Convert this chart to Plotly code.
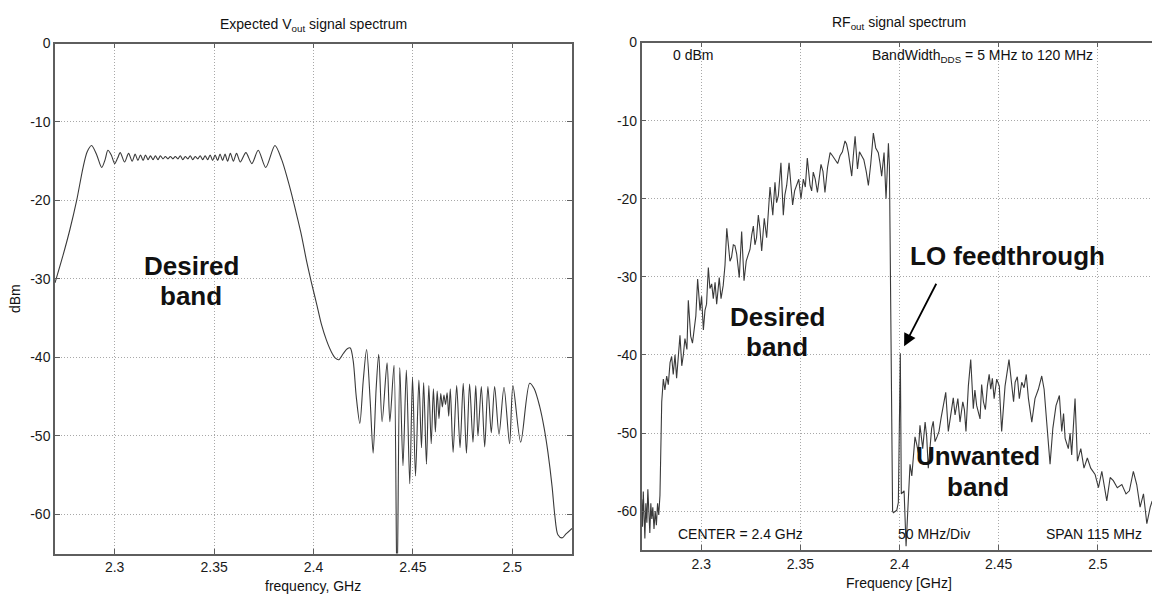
import plotly.graph_objects as go

W, H = 1152, 597

# ---------------- data ----------------
left_freq = [
    2.2700, 2.2738, 2.2775, 2.2809, 2.2841, 2.2862, 2.2884,
    2.2910, 2.2935, 2.2952, 2.2966, 2.2983, 2.3000, 2.3015, 2.3028,
    2.3050, 2.3070, 2.3088, 2.3103, 2.3117, 2.3130, 2.3143, 2.3155, 2.3168, 2.3180,
    2.3193, 2.3205, 2.3218, 2.3230, 2.3243, 2.3255, 2.3268, 2.3280, 2.3293, 2.3305,
    2.3318, 2.3330, 2.3343, 2.3355, 2.3368, 2.3380, 2.3393, 2.3405, 2.3418, 2.3430,
    2.3443, 2.3455, 2.3468, 2.3480, 2.3493, 2.3505, 2.3518, 2.3530, 2.3543, 2.3555,
    2.3568, 2.3582, 2.3597, 2.3613, 2.3632, 2.3660, 2.3690, 2.3722, 2.3760, 2.3806,
    2.3840, 2.3871, 2.3893, 2.3915, 2.3940, 2.3965, 2.3990, 2.4015, 2.4040, 2.4065,
    2.4090, 2.4110, 2.4127, 2.4150, 2.4170, 2.4185, 2.4200, 2.4215, 2.4233, 2.4250,
    2.4267, 2.4285, 2.4300, 2.4315, 2.4328, 2.4345, 2.4370, 2.4384, 2.4405, 2.4420,
    2.4434, 2.4450, 2.4467, 2.4484, 2.4498, 2.4513, 2.4530, 2.4543, 2.4554, 2.4568,
    2.4580, 2.4592, 2.4603, 2.4613, 2.4622, 2.4631, 2.4640, 2.4648, 2.4656, 2.4664,
    2.4672, 2.4680, 2.4688, 2.4702, 2.4720, 2.4737, 2.4753, 2.4769, 2.4785, 2.4802,
    2.4816, 2.4827, 2.4844, 2.4861, 2.4877, 2.4894, 2.4911, 2.4933, 2.4958, 2.4986,
    2.5003, 2.5042, 2.5087, 2.5110, 2.5137, 2.5160, 2.5179, 2.5200, 2.5213, 2.5229,
    2.5250, 2.5270, 2.5300,
]
left_dbm = [
    -30.5, -27.2, -23.7, -20.0, -15.8, -13.8, -13.0,
    -14.2, -15.8, -14.8, -13.6, -14.2, -15.3, -14.6, -13.9,
    -15.1, -14.0, -15.0, -14.1, -14.9, -14.2, -14.9, -14.2, -14.8, -14.3,
    -14.8, -14.3, -14.8, -14.3, -14.7, -14.4, -14.7, -14.4, -14.7, -14.4,
    -14.7, -14.3, -14.8, -14.4, -14.7, -14.3, -14.8, -14.4, -14.7, -14.3,
    -14.8, -14.3, -14.8, -14.2, -14.9, -14.2, -14.9, -14.1, -14.9, -14.1,
    -15.0, -14.0, -15.0, -14.0, -15.1, -13.9, -15.3, -13.6, -15.8, -13.0,
    -14.8, -17.4, -19.5, -21.8, -24.5, -27.7, -30.5, -33.1, -35.8, -37.8,
    -39.3, -40.1, -40.3, -39.5, -38.9, -38.8, -40.5, -45.0, -48.4, -43.0,
    -39.0, -45.5, -52.2, -44.0, -39.6, -48.2, -40.7, -48.2, -41.0, -70.0,
    -41.3, -53.8, -41.6, -56.1, -42.5, -55.1, -42.9, -51.5, -43.2, -53.6,
    -43.6, -51.0, -44.0, -49.5, -44.3, -47.8, -44.6, -46.3, -44.8, -46.0,
    -44.5, -47.5, -44.0, -52.1, -43.6, -51.5, -43.3, -52.2, -43.4, -50.8,
    -43.6, -50.0, -43.7, -51.4, -43.7, -49.6, -43.7, -49.8, -43.8, -51.0,
    -43.6, -50.8, -43.3, -44.0, -46.2, -49.0, -52.1, -56.5, -60.0, -62.6,
    -63.0, -62.5, -61.8,
]

right_freq = [
    # noise floor before the band
    2.2700, 2.2704, 2.2708, 2.2712, 2.2716, 2.2721, 2.2726, 2.2731, 2.2736, 2.2741,
    2.2746, 2.2751, 2.2756, 2.2762, 2.2768, 2.2774, 2.2780, 2.2786, 2.2792, 2.2797,
    # desired band
    2.2801, 2.2809, 2.2817, 2.2826, 2.2834, 2.2843, 2.2851, 2.2859, 2.2868, 2.2876,
    2.2885, 2.2893, 2.2902, 2.2910, 2.2918, 2.2928, 2.2935, 2.2947, 2.2956, 2.2965,
    2.2973, 2.2982, 2.2994, 2.3002, 2.3011, 2.3019, 2.3027, 2.3036, 2.3044, 2.3053,
    2.3061, 2.3070, 2.3078, 2.3091, 2.3100, 2.3111, 2.3120, 2.3129, 2.3137, 2.3145,
    2.3153, 2.3162, 2.3170, 2.3179, 2.3192, 2.3204, 2.3216, 2.3227, 2.3238, 2.3246,
    2.3255, 2.3263, 2.3271, 2.3279, 2.3288, 2.3296, 2.3305, 2.3318, 2.3330, 2.3338,
    2.3347, 2.3361, 2.3372, 2.3380, 2.3389, 2.3402, 2.3414, 2.3422, 2.3431, 2.3443,
    2.3452, 2.3461, 2.3471, 2.3482, 2.3492, 2.3503, 2.3515, 2.3525, 2.3535, 2.3549,
    2.3557, 2.3565, 2.3575, 2.3586, 2.3595, 2.3604, 2.3614, 2.3624, 2.3637, 2.3650,
    2.3662, 2.3675, 2.3688, 2.3700, 2.3712, 2.3725, 2.3733, 2.3742, 2.3750, 2.3759,
    2.3767, 2.3776, 2.3788, 2.3798, 2.3809, 2.3820, 2.3832, 2.3843, 2.3855, 2.3868,
    2.3880, 2.3893, 2.3902, 2.3910, 2.3922, 2.3932, 2.3944, 2.3949,
    # band edge and LO feedthrough
    2.3952, 2.3956, 2.3960, 2.3965, 2.3969, 2.3986, 2.3994, 2.4000, 2.4004, 2.4009,
    2.4023, 2.4033, 2.4044,
    # unwanted band
    2.4053, 2.4062, 2.4070, 2.4078, 2.4087, 2.4095, 2.4103, 2.4117, 2.4129, 2.4137,
    2.4145, 2.4153, 2.4162, 2.4170, 2.4179, 2.4189, 2.4199, 2.4210, 2.4221, 2.4233,
    2.4246, 2.4255, 2.4263, 2.4271, 2.4280, 2.4294, 2.4305, 2.4319, 2.4327, 2.4335,
    2.4347, 2.4359, 2.4372, 2.4380, 2.4389, 2.4406, 2.4414, 2.4423, 2.4433, 2.4443,
    2.4452, 2.4460, 2.4468, 2.4477, 2.4490, 2.4503, 2.4515, 2.4524, 2.4532, 2.4552,
    2.4566, 2.4575, 2.4583, 2.4594, 2.4604, 2.4616, 2.4628, 2.4639, 2.4650, 2.4667,
    2.4683, 2.4700, 2.4717, 2.4729, 2.4742, 2.4759, 2.4773, 2.4789, 2.4806, 2.4818,
    2.4827, 2.4835, 2.4851, 2.4860, 2.4868, 2.4885, 2.4897, 2.4914, 2.4930, 2.4947,
    2.4964, 2.4986, 2.5003, 2.5020, 2.5045, 2.5062, 2.5078, 2.5098, 2.5121, 2.5142,
    2.5159, 2.5179, 2.5196, 2.5213, 2.5230, 2.5247, 2.5264, 2.5274,
]
right_dbm = [
    -58.5, -62.0, -57.5, -60.5, -63.5, -59.0, -61.5, -57.2, -60.0, -62.8,
    -59.0, -61.0, -59.5, -62.3, -60.0, -61.8, -59.0, -60.5, -58.0, -50.0,
    -46.0, -43.1, -44.5, -42.7, -43.8, -41.0, -40.2, -42.5, -40.0, -43.0,
    -39.5, -37.5, -41.4, -40.0, -37.9, -39.3, -33.0, -37.6, -38.5, -36.8,
    -35.0, -30.3, -34.3, -32.5, -36.8, -34.3, -33.5, -28.8, -31.5, -30.9,
    -32.8, -30.7, -33.5, -30.1, -32.8, -31.1, -28.5, -23.8, -26.2, -28.0,
    -27.5, -25.9, -26.0, -27.1, -30.1, -24.2, -30.5, -28.0, -27.1, -26.5,
    -24.6, -23.5, -25.9, -25.0, -22.1, -23.8, -26.7, -22.5, -25.0, -21.5,
    -18.5, -22.1, -17.9, -20.5, -19.6, -15.4, -22.1, -19.5, -18.3, -15.4,
    -18.0, -20.8, -19.0, -18.3, -17.5, -20.0, -17.5, -18.5, -14.8, -18.3,
    -19.0, -16.6, -17.5, -19.2, -17.0, -15.6, -16.5, -19.2, -16.0, -14.1,
    -14.5, -15.0, -15.5, -14.5, -14.0, -12.6, -13.0, -14.1, -15.5, -17.1,
    -14.5, -12.0, -16.2, -14.0, -14.5, -15.0, -16.5, -18.3, -15.5, -11.6,
    -13.5, -14.1, -15.5, -17.1, -14.1, -20.0, -12.9, -15.8,
    -23.8, -37.6, -55.0, -60.0, -60.2, -59.9, -58.9, -50.0, -39.8, -57.8,
    -57.4, -64.5, -59.5,
    -54.0, -55.5, -52.8, -50.5, -51.5, -52.5, -49.0, -52.0, -48.6, -50.5,
    -54.5, -51.5, -49.4, -48.5, -51.1, -50.5, -49.8, -48.0, -46.5, -44.8,
    -49.8, -48.0, -46.9, -45.5, -47.7, -45.6, -48.6, -46.0, -47.0, -49.8,
    -44.0, -40.6, -46.9, -44.5, -46.5, -48.2, -43.8, -46.0, -47.0, -44.0,
    -42.5, -44.4, -43.0, -45.6, -43.1, -44.0, -49.8, -46.5, -44.0, -40.6,
    -44.4, -46.0, -43.5, -42.8, -45.6, -43.5, -44.2, -42.5, -45.6, -48.6,
    -45.6, -44.4, -42.7, -44.4, -48.6, -54.0, -49.4, -46.5, -45.2, -49.8,
    -47.5, -50.7, -52.0, -50.0, -52.8, -45.6, -53.6, -52.0, -54.5, -53.2,
    -54.5, -55.3, -57.0, -54.9, -58.7, -55.7, -56.1, -57.0, -56.6, -57.8,
    -57.4, -54.9, -56.6, -59.5, -57.8, -61.6, -59.5, -58.7,
]

x_ticks = [2.3, 2.35, 2.4, 2.45, 2.5]
x_tick_labels = ["2.3", "2.35", "2.4", "2.45", "2.5"]
y_ticks = [0, -10, -20, -30, -40, -50, -60]
y_tick_labels = ["0", "-10", "-20", "-30", "-40", "-50", "-60"]


# ---------------- layout helpers (pixel -> paper) ----------------
def fx(p):
    return p / W


def fy(p):
    return 1 - p / H


FONT = "Arial, Liberation Sans, sans-serif"
LINE_COL = "#3a3a3a"

fig = go.Figure()
fig.add_trace(go.Scatter(
    x=left_freq, y=left_dbm, mode="lines", xaxis="x", yaxis="y",
    line=dict(color=LINE_COL, width=1.1, shape="spline", smoothing=0.8),
    showlegend=False, hoverinfo="skip"))
fig.add_trace(go.Scatter(
    x=right_freq, y=right_dbm, mode="lines", xaxis="x2", yaxis="y2",
    line=dict(color=LINE_COL, width=1.1),
    showlegend=False, hoverinfo="skip"))

common = dict(
    showline=True, linecolor="#5e5e5e", linewidth=1.5,
    ticks="inside", ticklen=5, tickcolor="#5e5e5e", tickwidth=1,
    showgrid=True, gridcolor="#a8a8a8", griddash="1px,2px", gridwidth=1,
    zeroline=False, tickfont=dict(family=FONT, size=14, color="#1a1a1a"),
    fixedrange=True,
)

fig.update_layout(
    width=W, height=H, margin=dict(l=0, r=0, t=0, b=0),
    paper_bgcolor="white", plot_bgcolor="white", showlegend=False,
    xaxis=dict(domain=[fx(55), fx(572)], range=[2.27, 2.53], anchor="y",
               tickvals=x_ticks, ticktext=x_tick_labels, mirror="ticks", **common),
    yaxis=dict(domain=[fy(553), fy(36)], range=[-65, 0], anchor="x",
               tickvals=y_ticks, ticktext=y_tick_labels, mirror="ticks", **common),
    xaxis2=dict(domain=[fx(641.7), 1.0], range=[2.27, 2.5273], anchor="y2",
                tickvals=x_ticks, ticktext=x_tick_labels, mirror="ticks", **common),
    yaxis2=dict(domain=[fy(549.5), fy(35)], range=[-65, 0], anchor="x2",
                tickvals=y_ticks, ticktext=y_tick_labels, mirror=False, **common),
)

ann = []


def txt(x, y, text, size=14, xanchor="center", yanchor="middle", angle=0):
    ann.append(dict(x=fx(x), y=fy(y), xref="paper", yref="paper", text=text,
                    showarrow=False, xanchor=xanchor, yanchor=yanchor, textangle=angle,
                    font=dict(family=FONT, size=size, color="#111")))


# titles and axis titles
txt(313, 17, "Expected V<sub>out</sub> signal spectrum", 14)
txt(899, 15, "RF<sub>out</sub> signal spectrum", 14)
txt(15, 295, "dBm", 14, angle=-90)
txt(313, 586, "frequency, GHz", 14)
txt(899, 583, "Frequency [GHz]", 14)

# bold labels
for (x, y, t) in [(191, 262, "Desired"), (191, 292, "band"),
                  (777, 313, "Desired"), (777, 344, "band"),
                  (978, 454, "Unwanted"), (978, 485, "band"),
                  (1007, 251, "LO feedthrough")]:
    txt(x, y, "<b>" + t + "</b>", 26)

# instrument annotations
txt(693, 48, "0 dBm", 14)
txt(870, 49, "BandWidth<sub>DDS</sub> = 5 MHz to 120 MHz", 14, xanchor="left")
txt(740, 533, "CENTER = 2.4 GHz", 14)
txt(934, 533, "50 MHz/Div", 14)
txt(1094, 533, "SPAN 115 MHz", 14)

# arrow to the LO feedthrough spike
ann.append(dict(x=2.4023, y=-38.9, xref="x2", yref="y2",
                ax=2.4189, ay=-30.7, axref="x2", ayref="y2",
                text="", showarrow=True, arrowhead=2, arrowsize=1.4,
                arrowwidth=1.8, arrowcolor="black", standoff=0))

fig.update_layout(annotations=ann)
fig.write_html("out.html")
